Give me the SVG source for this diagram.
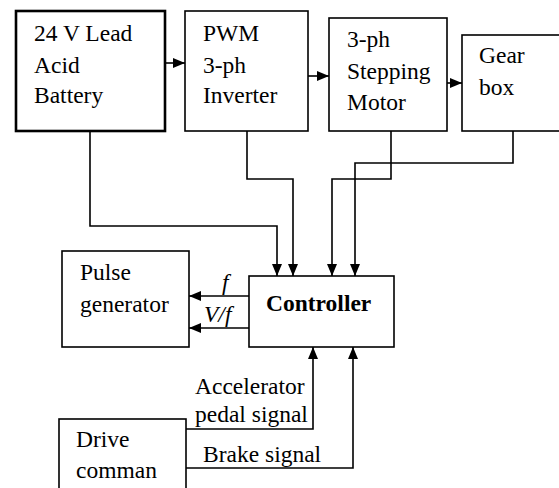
<svg xmlns="http://www.w3.org/2000/svg" width="559" height="488" viewBox="0 0 559 488">
<style>
.box{fill:#fff;stroke:#000;stroke-width:1.6}
.thick{stroke-width:2.6}
.t{font-family:"Liberation Serif","Times New Roman",serif;font-size:23.5px;fill:#000}
.b{font-weight:bold}
.i{font-style:italic}
.c{fill:none;stroke:#000;stroke-width:1.6}
</style>
<defs>
<marker id="ah" markerUnits="userSpaceOnUse" markerWidth="13" markerHeight="11" refX="12" refY="5" orient="auto">
<path d="M0,0 L12,5 L0,10 z" fill="#000"/>
</marker>
</defs>
<rect width="559" height="488" fill="#fff"/>
<g id="connectors">
<path class="c" d="M165,63 H185" marker-end="url(#ah)"/>
<path class="c" d="M308,76 H329" marker-end="url(#ah)"/>
<path class="c" d="M447,83 H462" marker-end="url(#ah)"/>
<path class="c" d="M90,131 V226 H277 V276" marker-end="url(#ah)"/>
<path class="c" d="M247,131 V179 H293 V276" marker-end="url(#ah)"/>
<path class="c" d="M391,131 V179 H332 V276" marker-end="url(#ah)"/>
<path class="c" d="M513,131 V163 H355 V276" marker-end="url(#ah)"/>
<path class="c" d="M249,296 H189" marker-end="url(#ah)"/>
<path class="c" d="M249,328 H189" marker-end="url(#ah)"/>
<path class="c" d="M186,429 H313 V347" marker-end="url(#ah)"/>
<path class="c" d="M186,468 H353 V347" marker-end="url(#ah)"/>
<text class="t i" x="222" y="290">f</text>
<text class="t i" x="204" y="322">V/f</text>
<text class="t" x="195" y="394">Accelerator</text>
<text class="t" x="195" y="422">pedal signal</text>
<text class="t" x="203" y="462">Brake signal</text>
</g>
<g id="battery">
<rect class="box thick" x="16" y="11" width="149" height="120"/>
<text class="t" x="34" y="41">24 V Lead</text>
<text class="t" x="34" y="73">Acid</text>
<text class="t" x="34" y="103">Battery</text>
</g>
<g id="inverter">
<rect class="box" x="185" y="11" width="123" height="120"/>
<text class="t" x="203" y="41">PWM</text>
<text class="t" x="203" y="73">3-ph</text>
<text class="t" x="203" y="103">Inverter</text>
</g>
<g id="motor">
<rect class="box" x="329" y="18" width="118" height="113"/>
<text class="t" x="347" y="47">3-ph</text>
<text class="t" x="347" y="79">Stepping</text>
<text class="t" x="347" y="110">Motor</text>
</g>
<g id="gearbox">
<rect class="box" x="462" y="35" width="110" height="96"/>
<text class="t" x="479" y="63">Gear</text>
<text class="t" x="479" y="95">box</text>
</g>
<g id="pulse">
<rect class="box" x="62" y="251" width="127" height="96"/>
<text class="t" x="80" y="280">Pulse</text>
<text class="t" x="80" y="312">generator</text>
</g>
<g id="controller">
<rect class="box" x="249" y="276" width="145" height="71"/>
<text class="t b" x="266" y="311">Controller</text>
</g>
<g id="drive">
<rect class="box" x="59" y="419" width="127" height="90"/>
<text class="t" x="76" y="447">Drive</text>
<text class="t" x="76" y="478">comman</text>
</g>
</svg>
